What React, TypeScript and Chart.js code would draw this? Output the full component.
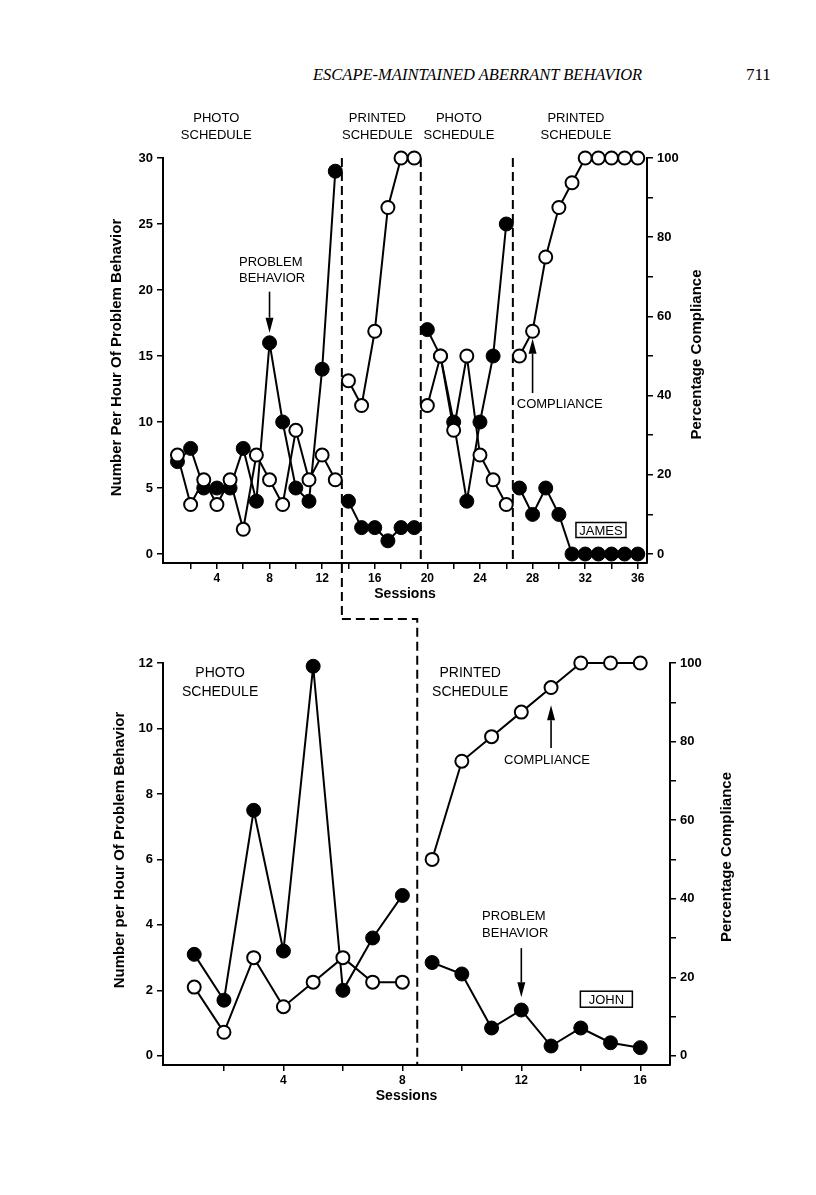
import React, { useEffect, useRef } from "react";
import { Chart, registerables } from "chart.js";

Chart.register(...registerables);

const FONT = '"Liberation Sans", Arial, Helvetica, sans-serif';

// ---------------- DATA: James (top panel) ----------------
const jamesSessions = [1, 2, 3, 4, 5, 6, 7, 8, 9, 10, 11, 12, 13, 14, 15, 16, 17, 18, 19, 20, 21, 22, 23, 24, 25, 26, 27, 28, 29, 30, 31, 32, 33, 34, 35, 36];
const jamesProblem = [7, 8, 5, 5, 5, 8, 4, 16, 10, 5, 4, 14, 29, 4, 2, 2, 1, 2, 2, 17, 15, 10, 4, 10, 15, 25, 5, 3, 5, 3, 0, 0, 0, 0, 0, 0];
const jamesCompliance = [25, 12.5, 18.75, 12.5, 18.75, 6.25, 25, 18.75, 12.5, 31.25, 18.75, 25, 18.75, 43.75, 37.5, 56.25, 87.5, 100, 100, 37.5, 50, 31.25, 50, 25, 18.75, 12.5, 50, 56.25, 75, 87.5, 93.75, 100, 100, 100, 100, 100];
const jamesPhaseChanges = [13.5, 19.5, 26.5];
const jamesXTicks = [2, 4, 6, 8, 10, 12, 14, 16, 18, 20, 22, 24, 26, 28, 30, 32, 34, 36];
const jamesYTicks = [0, 5, 10, 15, 20, 25, 30];

// ---------------- DATA: John (bottom panel) ----------------
const johnSessions = [1, 2, 3, 4, 5, 6, 7, 8, 9, 10, 11, 12, 13, 14, 15, 16];
const johnProblem = [3.1, 1.7, 7.5, 3.2, 11.9, 2.0, 3.6, 4.9, 2.85, 2.5, 0.85, 1.4, 0.3, 0.85, 0.4, 0.25];
const johnCompliance = [17.5, 6, 25, 12.5, 18.75, 25, 18.75, 18.75, 50, 75, 81.25, 87.5, 93.75, 100, 100, 100];
const johnPhaseChanges = [8.5];
const johnXTicks = [2, 4, 6, 8, 10, 12, 14, 16];
const johnYTicks = [0, 2, 4, 6, 8, 10, 12];

const percentTicks = [0, 10, 20, 30, 40, 50, 60, 70, 80, 90, 100];

// ---------------- helpers ----------------
function buildSeries(sessions: number[], values: number[], breaks: number[]) {
  const pts: { x: number; y: number | null }[] = [];
  for (let i = 0; i < sessions.length; i++) {
    if (i > 0) {
      for (const b of breaks) {
        if (sessions[i - 1] < b && sessions[i] > b) pts.push({ x: b, y: null });
      }
    }
    pts.push({ x: sessions[i], y: values[i] });
  }
  return pts;
}

function dashed(ctx: CanvasRenderingContext2D, pts: [number, number][]) {
  ctx.save();
  ctx.setLineDash([9, 5]);
  ctx.lineWidth = 2;
  ctx.strokeStyle = "#000";
  ctx.beginPath();
  ctx.moveTo(pts[0][0], pts[0][1]);
  for (let i = 1; i < pts.length; i++) ctx.lineTo(pts[i][0], pts[i][1]);
  ctx.stroke();
  ctx.restore();
}

function arrow(ctx: CanvasRenderingContext2D, x: number, yFrom: number, yTip: number) {
  const dir = yTip > yFrom ? 1 : -1;
  const head = 15;
  const hw = 4;
  ctx.save();
  ctx.strokeStyle = "#000";
  ctx.fillStyle = "#000";
  ctx.lineWidth = 1.6;
  ctx.beginPath();
  ctx.moveTo(x, yFrom);
  ctx.lineTo(x, yTip - dir * head);
  ctx.stroke();
  ctx.beginPath();
  ctx.moveTo(x, yTip);
  ctx.lineTo(x - hw, yTip - dir * head);
  ctx.lineTo(x + hw, yTip - dir * head);
  ctx.closePath();
  ctx.fill();
  ctx.restore();
}

type TextNote = { lines: string[]; x: number; y: number; align: CanvasTextAlign; size: number; lh: number };
type ArrowNote = { x: number; from: number; tip: number };
type BoxNote = { text: string; x: number; y: number; w: number; h: number; size: number };

type Panel = {
  sessions: number[];
  problem: number[];
  compliance: number[];
  phases: number[];
  xTicks: number[];
  yTicks: number[];
  xMin: number;
  xMax: number;
  yMin: number;
  yMax: number;
  padTop: number;
  xHeight: number;
  leftWidth: number;
  rightWidth: number;
  texts: TextNote[];
  arrows: ArrowNote[];
  box: BoxNote;
  leftTitle: string;
  leftTitleDx: number;
  rightTitleDx: number;
  leftTitleDy: number;
  rightTitleDy: number;
  sessionsDx: number;
  connectorY?: number;
};

function makeConfig(p: Panel, getOther: () => Chart | null, isTop: boolean): any {
  const y2Min = (p.yMin / p.yMax) * 100;
  const xFont = { family: FONT, size: 12, weight: "bold" as const };
  const yFont = { family: FONT, size: 13, weight: "bold" as const };
  const grid = { drawOnChartArea: false, drawTicks: true, tickLength: 6, color: "#000", lineWidth: 1.5 };
  const border = { display: true, color: "#000", width: 2 };

  const plugin = {
    id: "annot",
    beforeDatasetsDraw(chart: any) {
      const ctx: CanvasRenderingContext2D = chart.ctx;
      const { top, bottom } = chart.chartArea;
      const xs = chart.scales.x;
      p.phases.forEach((ph, i) => {
        const x = xs.getPixelForValue(ph);
        if (isTop && i === 0 && p.connectorY !== undefined) {
          dashed(ctx, [[x, top], [x, p.connectorY]]);
        } else if (!isTop && i === 0 && p.connectorY !== undefined) {
          const other = getOther();
          const ox = other ? other.scales.x.getPixelForValue(jamesPhaseChanges[0]) : x;
          dashed(ctx, [[ox, p.connectorY], [x, p.connectorY], [x, bottom]]);
        } else {
          dashed(ctx, [[x, top], [x, bottom]]);
        }
      });
    },
    afterDatasetsDraw(chart: any) {
      const ctx: CanvasRenderingContext2D = chart.ctx;
      const xs = chart.scales.x;
      const ys = chart.scales.y;
      const ca = chart.chartArea;
      ctx.save();
      ctx.fillStyle = "#000";
      ctx.textBaseline = "middle";
      for (const t of p.texts) {
        ctx.font = `${t.size}px ${FONT}`;
        ctx.textAlign = t.align;
        const x = xs.getPixelForValue(t.x);
        const y = ys.getPixelForValue(t.y);
        t.lines.forEach((ln, i) => ctx.fillText(ln, x, y + i * t.lh));
      }
      for (const a of p.arrows) {
        arrow(ctx, xs.getPixelForValue(a.x), ys.getPixelForValue(a.from), ys.getPixelForValue(a.tip));
      }
      // label box
      const b = p.box;
      const bx = xs.getPixelForValue(b.x);
      const by = ys.getPixelForValue(b.y);
      ctx.lineWidth = 1.5;
      ctx.strokeStyle = "#000";
      ctx.strokeRect(bx - b.w / 2, by - b.h / 2, b.w, b.h);
      ctx.font = `${b.size}px ${FONT}`;
      ctx.textAlign = "center";
      ctx.fillText(b.text, bx, by + 1);
      // axis titles
      const cy = (ca.top + ca.bottom) / 2;
      ctx.font = `bold 15px ${FONT}`;
      ctx.save();
      ctx.translate(ca.left - p.leftTitleDx, cy + p.leftTitleDy);
      ctx.rotate(-Math.PI / 2);
      ctx.textAlign = "center";
      ctx.fillText(p.leftTitle, 0, 0);
      ctx.restore();
      ctx.save();
      ctx.translate(ca.right + p.rightTitleDx, cy + p.rightTitleDy);
      ctx.rotate(-Math.PI / 2);
      ctx.textAlign = "center";
      ctx.fillText("Percentage Compliance", 0, 0);
      ctx.restore();
      ctx.font = `bold 14px ${FONT}`;
      ctx.textAlign = "center";
      ctx.fillText("Sessions", (ca.left + ca.right) / 2 + p.sessionsDx, ca.bottom + 31);
      ctx.restore();
    },
  };

  return {
    type: "line",
    data: {
      datasets: [
        {
          label: "Compliance",
          data: buildSeries(p.sessions, p.compliance, p.phases),
          yAxisID: "y2",
          borderColor: "#000",
          borderWidth: 2,
          pointRadius: 6.5,
          pointBorderWidth: 2,
          pointBackgroundColor: "#fff",
          pointBorderColor: "#000",
          spanGaps: false,
          tension: 0,
        },
        {
          label: "Problem behavior",
          data: buildSeries(p.sessions, p.problem, p.phases),
          yAxisID: "y",
          borderColor: "#000",
          borderWidth: 2,
          pointRadius: 7,
          pointBorderWidth: 1,
          pointBackgroundColor: "#000",
          pointBorderColor: "#000",
          spanGaps: false,
          tension: 0,
        },
      ],
    },
    options: {
      animation: false,
      responsive: false,
      devicePixelRatio: 1,
      clip: false,
      layout: { padding: { top: p.padTop, left: 0, right: 0, bottom: 0 } },
      plugins: { legend: { display: false }, tooltip: { enabled: false }, title: { display: false } },
      scales: {
        x: {
          type: "linear",
          min: p.xMin,
          max: p.xMax,
          afterBuildTicks: (s: any) => {
            s.ticks = p.xTicks.map((v) => ({ value: v }));
          },
          afterFit: (s: any) => {
            s.height = p.xHeight;
          },
          grid,
          border,
          ticks: {
            font: xFont,
            color: "#000",
            padding: 2,
            maxRotation: 0,
            autoSkip: false,
            callback: (v: any) => (Number(v) % 4 === 0 ? String(v) : ""),
          },
        },
        y: {
          type: "linear",
          position: "left",
          min: p.yMin,
          max: p.yMax,
          afterBuildTicks: (s: any) => {
            s.ticks = p.yTicks.map((v) => ({ value: v }));
          },
          afterFit: (s: any) => {
            s.width = p.leftWidth;
          },
          grid,
          border,
          ticks: { font: yFont, color: "#000", padding: 4, autoSkip: false, callback: (v: any) => String(v) },
        },
        y2: {
          type: "linear",
          position: "right",
          min: y2Min,
          max: 100,
          afterBuildTicks: (s: any) => {
            s.ticks = percentTicks.map((v) => ({ value: v }));
          },
          afterFit: (s: any) => {
            s.width = p.rightWidth;
          },
          grid,
          border,
          ticks: {
            font: yFont,
            color: "#000",
            padding: 4,
            autoSkip: false,
            callback: (v: any) => (Number(v) % 20 === 0 ? String(v) : ""),
          },
        },
      },
    },
    plugins: [plugin],
  };
}

const TOP_CANVAS_TOP = 100;
const TOP_CANVAS_H = 530;
const BOT_CANVAS_TOP = 600;
const BOT_CANVAS_H = 520;

const jamesPanel: Panel = {
  sessions: jamesSessions,
  problem: jamesProblem,
  compliance: jamesCompliance,
  phases: jamesPhaseChanges,
  xTicks: jamesXTicks,
  yTicks: jamesYTicks,
  xMin: -0.1,
  xMax: 36.7,
  yMin: -0.68,
  yMax: 30,
  padTop: 58,
  xHeight: 67,
  leftWidth: 163,
  rightWidth: 169,
  texts: [
    { lines: ["PHOTO", "SCHEDULE"], x: 3.95, y: 33.0, align: "center", size: 13, lh: 17 },
    { lines: ["PRINTED", "SCHEDULE"], x: 16.2, y: 33.0, align: "center", size: 13, lh: 17 },
    { lines: ["PHOTO", "SCHEDULE"], x: 22.4, y: 33.0, align: "center", size: 13, lh: 17 },
    { lines: ["PRINTED", "SCHEDULE"], x: 31.3, y: 33.0, align: "center", size: 13, lh: 17 },
    { lines: ["PROBLEM", "BEHAVIOR"], x: 5.68, y: 22.07, align: "left", size: 13, lh: 16 },
    { lines: ["COMPLIANCE"], x: 26.8, y: 11.36, align: "left", size: 13, lh: 16 },
  ],
  arrows: [
    { x: 8, from: 19.87, tip: 16.77 },
    { x: 28, from: 12.2, tip: 16.3 },
  ],
  box: { text: "JAMES", x: 33.2, y: 1.82, w: 50, h: 15, size: 13 },
  leftTitle: "Number Per Hour Of Problem Behavior",
  leftTitleDx: 46,
  rightTitleDx: 50,
  leftTitleDy: -3,
  rightTitleDy: -6,
  sessionsDx: 0,
  connectorY: 619 - TOP_CANVAS_TOP,
};

const johnPanel: Panel = {
  sessions: johnSessions,
  problem: johnProblem,
  compliance: johnCompliance,
  phases: johnPhaseChanges,
  xTicks: johnXTicks,
  yTicks: johnYTicks,
  xMin: -0.05,
  xMax: 17,
  yMin: -0.28,
  yMax: 12,
  padTop: 63,
  xHeight: 55,
  leftWidth: 163,
  rightWidth: 146,
  texts: [
    { lines: ["PHOTO", "SCHEDULE"], x: 1.87, y: 11.69, align: "center", size: 14, lh: 19 },
    { lines: ["PRINTED", "SCHEDULE"], x: 10.28, y: 11.69, align: "center", size: 14, lh: 19 },
    { lines: ["COMPLIANCE"], x: 11.42, y: 9.03, align: "left", size: 13, lh: 16 },
    { lines: ["PROBLEM", "BEHAVIOR"], x: 10.68, y: 4.27, align: "left", size: 13, lh: 17 },
  ],
  arrows: [
    { x: 13, from: 9.4, tip: 10.71 },
    { x: 12, from: 3.29, tip: 1.79 },
  ],
  box: { text: "JOHN", x: 14.86, y: 1.73, w: 52, h: 16, size: 13 },
  leftTitle: "Number per Hour Of Problem Behavior",
  leftTitleDx: 43,
  rightTitleDx: 57,
  leftTitleDy: -14,
  rightTitleDy: -7,
  sessionsDx: -10,
  connectorY: 619 - BOT_CANVAS_TOP,
};

export default function App() {
  const topRef = useRef<HTMLCanvasElement>(null);
  const botRef = useRef<HTMLCanvasElement>(null);

  useEffect(() => {
    let topChart: Chart | null = null;
    let botChart: Chart | null = null;
    if (topRef.current) {
      topChart = new Chart(topRef.current, makeConfig(jamesPanel, () => null, true));
    }
    if (botRef.current) {
      botChart = new Chart(botRef.current, makeConfig(johnPanel, () => topChart, false));
    }
    return () => {
      botChart?.destroy();
      topChart?.destroy();
    };
  }, []);

  return (
    <div style={{ position: "absolute", left: 0, top: 0, width: 816, height: 1195, background: "#fff", overflow: "hidden" }}>
      <div
        style={{
          position: "absolute",
          left: 313,
          top: 65,
          fontFamily: '"Liberation Serif", "DejaVu Serif", serif',
          fontStyle: "italic",
          fontSize: 16.5,
          lineHeight: "20px",
          whiteSpace: "nowrap",
          color: "#000",
        }}
      >
        ESCAPE-MAINTAINED ABERRANT BEHAVIOR
      </div>
      <div
        style={{
          position: "absolute",
          left: 746,
          top: 65,
          fontFamily: '"Liberation Serif", "DejaVu Serif", serif',
          fontSize: 17,
          lineHeight: "20px",
          color: "#000",
        }}
      >
        711
      </div>
      <canvas
        ref={topRef}
        width={816}
        height={TOP_CANVAS_H}
        style={{ position: "absolute", left: 0, top: TOP_CANVAS_TOP, width: 816, height: TOP_CANVAS_H }}
      />
      <canvas
        ref={botRef}
        width={816}
        height={BOT_CANVAS_H}
        style={{ position: "absolute", left: 0, top: BOT_CANVAS_TOP, width: 816, height: BOT_CANVAS_H }}
      />
    </div>
  );
}
